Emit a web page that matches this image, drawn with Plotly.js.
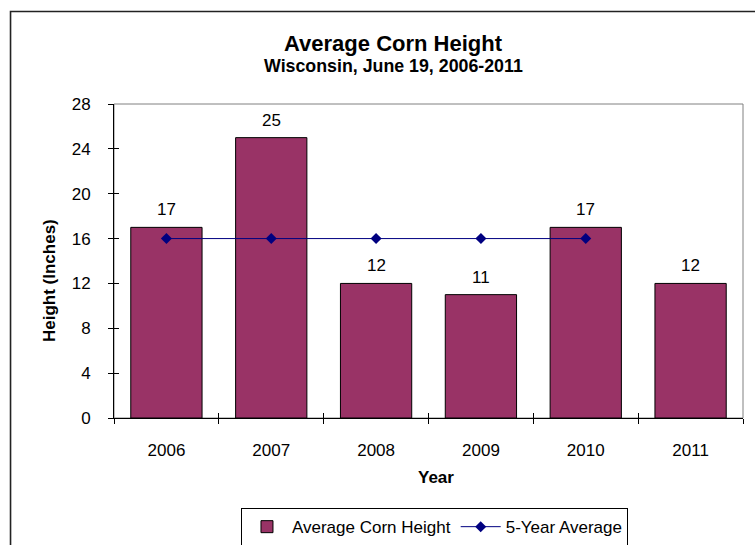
<!DOCTYPE html>
<html>
<head>
<meta charset="utf-8">
<script src="https://cdn.plot.ly/plotly-3.0.1.min.js"></script>
<style>html,body{margin:0;padding:0;background:#fff;}#chart{width:755px;height:545px;}</style>
</head>
<body>
<div id="chart"></div>
<script>
var years = ['2006', '2007', '2008', '2009', '2010', '2011'];
var heights = [17, 25, 12, 11, 17, 12];
var avgYears = ['2006', '2007', '2008', '2009', '2010'];
var avgValues = [16, 16, 16, 16, 16];
var yTicks = [0, 4, 8, 12, 16, 20, 24, 28];

var FONT = 'Liberation Sans, Arial, sans-serif';

var traces = [
  {
    type: 'bar', name: 'Average Corn Height',
    x: years, y: heights,
    marker: {color: '#993366', line: {color: '#000000', width: 1}},
    hoverinfo: 'x+y'
  },
  {
    type: 'scatter', mode: 'lines+markers', name: '5-Year Average',
    x: avgYears, y: avgValues,
    line: {color: '#000080', width: 1},
    marker: {symbol: 'diamond', size: 8.5, color: '#000080'}
  },
  {
    type: 'scatter', mode: 'markers', x: years, y: heights,
    xaxis: 'x2', yaxis: 'y2', marker: {opacity: 0},
    showlegend: false, hoverinfo: 'skip'
  }
];

// value labels above bars, positioned by category index on the x axis
var valueLabels = years.map(function (yr, i) {
  return {
    text: String(heights[i]), x: years.indexOf(yr), y: heights[i], xref: 'x', yref: 'y',
    xanchor: 'center', yanchor: 'bottom', yshift: 6, showarrow: false,
    font: {family: FONT, size: 17, color: '#000'}
  };
});

var layout = {
  width: 755, height: 545,
  margin: {l: 114, r: 12, t: 104, b: 127, pad: 0, autoexpand: false},
  paper_bgcolor: '#ffffff', plot_bgcolor: '#ffffff',
  font: {family: FONT, size: 17, color: '#000'},
  bargap: 0.32,
  showlegend: true,
  xaxis: {
    type: 'category', categoryorder: 'array', categoryarray: years,
    range: [-0.5, 5.5], tickson: 'boundaries', ticks: 'outside', ticklen: 5,
    tickcolor: '#000', showline: true, linecolor: '#000', linewidth: 1,
    showgrid: false, zeroline: false, ticklabelstandoff: 17,
    tickfont: {family: FONT, size: 17, color: '#000'}, automargin: false
  },
  yaxis: {
    range: [0, 28], tickvals: yTicks, ticks: 'outside', ticklen: 5,
    tickcolor: '#000', showline: true, linecolor: '#000', linewidth: 1,
    showgrid: false, zeroline: false, ticklabelstandoff: 14,
    tickfont: {family: FONT, size: 17, color: '#000'}, automargin: false
  },
  xaxis2: {
    type: 'category', categoryorder: 'array', categoryarray: years,
    overlaying: 'x', anchor: 'y2', side: 'bottom',
    range: [-0.5, 5.5], tickson: 'boundaries', ticks: 'inside', ticklen: 5,
    tickcolor: '#000', showticklabels: false, showline: false, showgrid: false, zeroline: false
  },
  yaxis2: {
    overlaying: 'y', anchor: 'x2', side: 'left',
    range: [0, 28], tickvals: yTicks, ticks: 'inside', ticklen: 5,
    tickcolor: '#000', showticklabels: false, showline: false, showgrid: false, zeroline: false
  },
  legend: {
    orientation: 'h', x: 0.5095, xanchor: 'center', y: -0.287, yanchor: 'top',
    bordercolor: '#000', borderwidth: 1, bgcolor: '#fff', itemwidth: 40,
    font: {family: FONT, size: 17, color: '#000'}
  },
  shapes: [
    {type: 'rect', xref: 'paper', yref: 'paper', x0: 0, x1: 1, y0: 0, y1: 1,
     line: {color: '#808080', width: 1}, layer: 'below'},
    {type: 'rect', xref: 'paper', yref: 'paper', x0: -0.1645, x1: 1.05, y0: -0.5, y1: 1.2945,
     line: {color: '#222222', width: 1.6}, fillcolor: 'rgba(0,0,0,0)', layer: 'below'}
  ],
  annotations: [
    {text: '<b>Average Corn Height</b>', xref: 'paper', yref: 'paper', x: 0.445, y: 1.1935,
     xanchor: 'center', yanchor: 'middle', showarrow: false,
     font: {family: FONT, size: 22, color: '#000'}},
    {text: '<b>Wisconsin, June 19, 2006-2011</b>', xref: 'paper', yref: 'paper', x: 0.445, y: 1.121,
     xanchor: 'center', yanchor: 'middle', showarrow: false,
     font: {family: FONT, size: 17.8, color: '#000'}},
    {text: '<b>Year</b>', xref: 'paper', yref: 'paper', x: 0.5127, y: -0.188,
     xanchor: 'center', yanchor: 'middle', showarrow: false,
     font: {family: FONT, size: 17, color: '#000'}},
    {text: '<b>Height (Inches)</b>', xref: 'paper', yref: 'paper', x: -0.1033, y: 0.4363,
     xanchor: 'center', yanchor: 'middle', showarrow: false, textangle: -90,
     font: {family: FONT, size: 17, color: '#000'}}
  ].concat(valueLabels)
};

Plotly.newPlot('chart', traces, layout, {staticPlot: true, displayModeBar: false});
</script>
</body>
</html>
